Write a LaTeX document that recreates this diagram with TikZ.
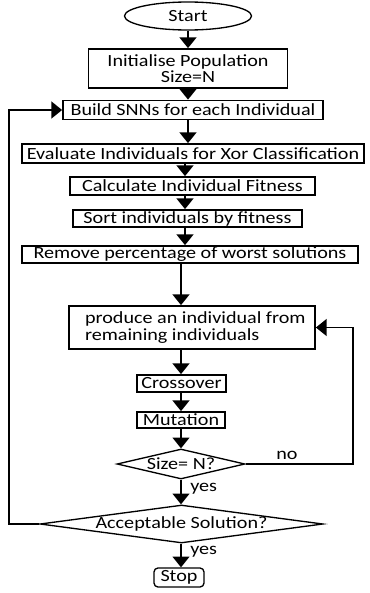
\documentclass[tikz,border=0pt]{standalone}
\usepackage{fontspec}
\setmainfont{Carlito}[FakeStretch=1.18]
\usetikzlibrary{shapes.geometric,arrows.meta}
\begin{document}
\begin{tikzpicture}[x=0.75pt,y=-0.75pt,
  every node/.style={font=\fontsize{12.8pt}{12.5pt}\selectfont, inner sep=0pt},
  box/.style={draw, line width=1.3pt, rectangle},
  arr/.style={line width=1.3pt, -{Triangle[width=12.5pt,length=8pt]}},
  lbl/.style={font=\fontsize{12.8pt}{12.5pt}\selectfont}]
\useasboundingbox (0,0) rectangle (370,593);
\node[draw, line width=1pt, ellipse, minimum width=95.25pt, minimum height=21pt] (start) at (188,16) {Start};
\node[box, minimum width=149.25pt, minimum height=29.25pt, align=center] (init) at (188,68.5) {Initialise Population\\Size=N};
\node[box, minimum width=195pt, minimum height=14.25pt] (build) at (193,110) {Build SNNs for each Individual};
\node[box, minimum width=256.5pt, minimum height=14.25pt] (eval) at (193,153.5) {Evaluate Individuals for Xor Classification};
\node[box, minimum width=183.75pt, minimum height=13.5pt] (calc) at (192.5,186) {Calculate Individual Fitness};
\node[box, minimum width=171.75pt, minimum height=12.75pt] (sort) at (187.5,218.5) {Sort individuals by fitness};
\node[box, minimum width=252pt, minimum height=12.75pt] (remove) at (190,254.5) {Remove percentage of worst solutions};
\node[box, minimum width=184.5pt, minimum height=32.25pt, align=left] (produce) at (192,327.5) {\hspace*{5pt}produce an individual from\\\hspace*{5pt}remaining individuals};
\node[box, minimum width=66.75pt, minimum height=12.75pt] (cross) at (181.5,383.5) {Crossover};
\node[box, minimum width=66pt, minimum height=12pt] (mut) at (181,420) {Mutation};
\node[draw, line width=1pt, diamond, shape aspect=4.3, minimum width=96pt, minimum height=22.5pt] (size) at (181,464) {Size= N?};
\node[draw, line width=1pt, diamond, shape aspect=7.4, minimum width=212.25pt, minimum height=28.5pt] (accept) at (181.5,524) {Acceptable Solution?};
\node[draw, line width=1pt, rounded corners=3pt, minimum width=37.5pt, minimum height=14.25pt] (stop) at (179,577.5) {Stop};
\coordinate (xa) at (188,0);
\coordinate (xb) at (185,0);
\coordinate (xc) at (181,0);
\coordinate (l1) at (9,0);
\coordinate (r1) at (353,0);
\draw[arr] (start.south -| xa) -- (init.north -| xa);
\draw[arr] (init.south -| xa) -- (build.north -| xa);
\draw[arr] (build.south -| xa) -- (eval.north -| xa);
\draw[arr] (eval.south -| xb) -- (calc.north -| xb);
\draw[arr] (calc.south -| xb) -- (sort.north -| xb);
\draw[arr] (sort.south -| xb) -- (remove.north -| xb);
\draw[arr] (remove.south -| xc) -- (produce.north -| xc);
\draw[arr] (produce.south -| xc) -- (cross.north -| xc);
\draw[arr] (cross.south -| xc) -- (mut.north -| xc);
\draw[arr] (mut.south -| xc) -- (size.north -| xc);
\draw[arr] (size.south -| xc) -- (accept.north -| xc);
\draw[arr] (accept.south -| xc) -- (stop.north -| xc);
\draw[arr] (size.east) -- (size.east -| r1) |- (produce.east);
\draw[arr] (accept.west) -- (accept.west -| l1) |- (build.west);
\node[lbl] (no) at (287,455) {no};
\node[lbl, anchor=west] (yes1) at (190,489) {yes};
\node[lbl, anchor=west] (yes2) at (190,552) {yes};
\end{tikzpicture}
\end{document}
